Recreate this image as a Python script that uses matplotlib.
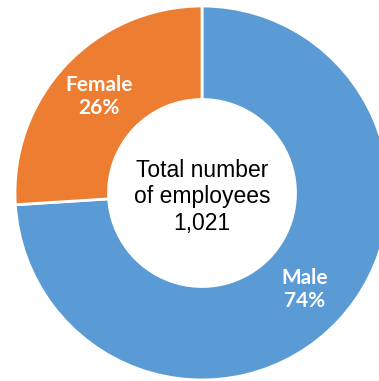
import matplotlib
matplotlib.use("Agg")
import matplotlib.pyplot as plt

categories = ["Male", "Female"]
shares = [74, 26]
colors = ["#5B9BD5", "#ED7D31"]
total_employees = "1,021"

W, H = 379, 381
fig = plt.figure(figsize=(W / 100, H / 100), dpi=100)
ax = fig.add_axes([0, 0, 1, 1])

cx, cy, R = 202, H - 193, 187
labels = [f"{c}\n{v}%" for c, v in zip(categories, shares)]
wedges, texts = ax.pie(
    shares, colors=colors, startangle=90, counterclock=False,
    center=(cx, cy), radius=R, labels=labels, labeldistance=0.755,
    wedgeprops=dict(width=R * 0.5, edgecolor="white", linewidth=2),
    textprops=dict(color="white", fontsize=15, fontweight="bold",
                   family="Lato", va="center", linespacing=1.2),
    frame=True,
)
for t in texts:
    t.set_horizontalalignment("center")
ax.set_xlim(0, W)
ax.set_ylim(0, H)
ax.set_aspect("equal")
ax.axis("off")

ax.text(cx, cy - 4, f"Total number\nof employees\n{total_employees}",
        ha="center", va="center", fontsize=16.5, family="Liberation Sans",
        color="black", linespacing=1.2)

fig.savefig("out.png", dpi=100)
